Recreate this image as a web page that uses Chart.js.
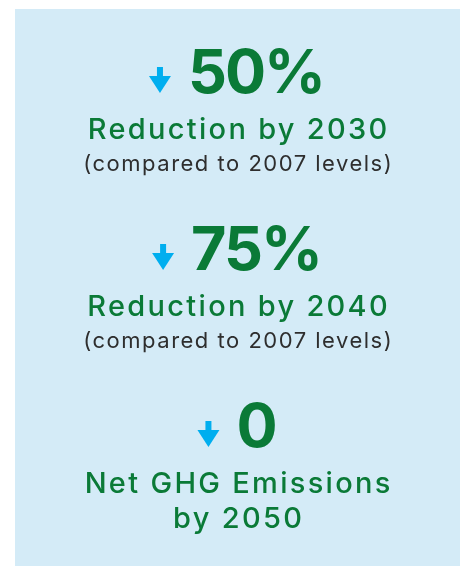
<!DOCTYPE html>
<html>
<head>
<meta charset="utf-8">
<script src="https://cdn.jsdelivr.net/npm/chart.js@4/dist/chart.umd.min.js"></script>
<style>
  html, body { margin: 0; padding: 0; background: #ffffff; }
  canvas { display: block; }
</style>
</head>
<body>
<canvas id="c" width="460" height="566"></canvas>
<script>
// ---- data ----
const targets = ["2030", "2040", "2050"];
const reductionValues = [50, 75, 0];
const valueUnits = ["%", "%", ""];
const headlines = [["Reduction by 2030"], ["Reduction by 2040"], ["Net GHG Emissions", "by 2050"]];
const notes = ["(compared to 2007 levels)", "(compared to 2007 levels)", ""];

// ---- styles ----
const GREEN = "#0a7a37";
const BLUE = "#00aeef";
const GREY = "#2e2e2e";
const PANEL = "#d4ebf7";
const FONT = "Inter, 'DejaVu Sans', sans-serif";

const panelPlugin = {
  id: "panel",
  beforeDraw(chart) {
    const ctx = chart.ctx;
    ctx.save();
    ctx.fillStyle = PANEL;
    ctx.fillRect(15, 9, chart.width - 15, chart.height - 9);
    ctx.restore();
  }
};

function centerText(ctx, txt, cx, y, spacing) {
  ctx.letterSpacing = spacing + "px";
  const w = ctx.measureText(txt).width - spacing;
  ctx.textAlign = "left";
  ctx.fillText(txt, cx - w / 2, y);
}

const textPlugin = {
  id: "targetText",
  afterDatasetsDraw(chart) {
    const ctx = chart.ctx;
    const meta = chart.getDatasetMeta(0);
    ctx.save();
    ctx.textBaseline = "alphabetic";
    meta.data.forEach((pt, i) => {
      const cx = pt.x;
      const B = pt.y;
      // big number with arrow
      const big = String(reductionValues[i]) + valueUnits[i];
      ctx.font = "700 61px " + FONT;
      ctx.letterSpacing = "-2px";
      const w = ctx.measureText(big).width + 2;
      const aw = 22, gap = 17;
      const start = cx - (aw + gap + w) / 2;
      // arrow
      const ax = start + aw / 2;
      ctx.fillStyle = BLUE;
      ctx.fillRect(ax - 3, B - 26, 6, 10);
      ctx.beginPath();
      ctx.moveTo(start, B - 17);
      ctx.lineTo(start + aw, B - 17);
      ctx.lineTo(ax, B);
      ctx.closePath();
      ctx.fill();
      // number
      ctx.fillStyle = GREEN;
      ctx.textAlign = "left";
      ctx.fillText(big, start + aw + gap, B);
      // headline lines
      ctx.font = "500 29px " + FONT;
      headlines[i].forEach((ln, k) => {
        centerText(ctx, ln, cx, B + 46 + k * 35, 2.3);
      });
      if (notes[i]) {
        ctx.fillStyle = GREY;
        ctx.font = "400 22px " + FONT;
        centerText(ctx, notes[i], cx, B + 78, 1.5);
      }
    });
    ctx.restore();
  }
};

new Chart(document.getElementById("c"), {
  type: "scatter",
  data: {
    labels: targets,
    datasets: [{
      label: "Targets",
      data: reductionValues.map((v, i) => ({ x: 0.5, y: i })),
      pointRadius: 0,
      pointHoverRadius: 0
    }]
  },
  options: {
    responsive: false,
    animation: false,
    events: [],
    layout: { padding: { top: 93, bottom: 119, left: 15, right: 0 } },
    plugins: { legend: { display: false }, tooltip: { enabled: false } },
    scales: {
      x: { type: "linear", min: 0, max: 1, display: false },
      y: { type: "linear", min: 0, max: 2, reverse: true, display: false }
    }
  },
  plugins: [panelPlugin, textPlugin]
});
</script>
</body>
</html>
